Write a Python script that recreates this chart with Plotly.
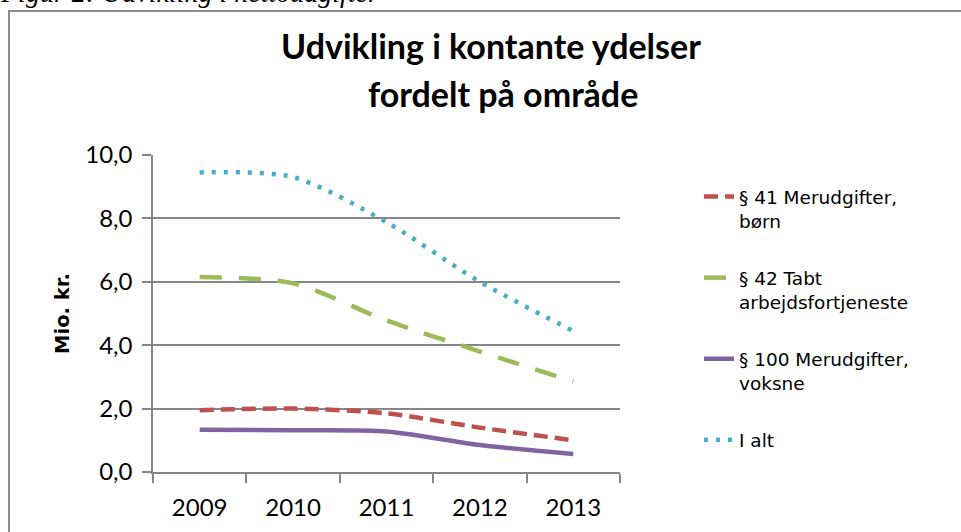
import plotly.graph_objects as go

years = ["2009", "2010", "2011", "2012", "2013"]
s41 = [1.95, 2.0, 1.85, 1.4, 1.0]
s42 = [6.15, 5.95, 4.78, 3.8, 2.85]
s100 = [1.33, 1.32, 1.28, 0.85, 0.57]
ialt = [9.45, 9.3, 7.88, 6.0, 4.45]

names = ["§ 41 Merudgifter,<br>børn", "§ 42 Tabt<br>arbejdsfortjeneste",
         "§ 100 Merudgifter,<br>voksne", "I alt"]
colors = ["#C0504D", "#9BBB59", "#8064A2", "#4BACC6"]
dashes = ["14px,7px", "22px,17px", "solid", "4px,8px"]
series = [s41, s42, s100, ialt]

# plot area in pixels
L, R, T, B = 153, 620, 155, 472
W, H = 961, 532
def px(x): return (x - L) / (R - L)
def py(y): return (B - y) / (B - T)

fig = go.Figure()
for i, (nm, vals) in enumerate(zip(names, series)):
    fig.add_trace(go.Scatter(
        x=years, y=vals, name=nm, mode="lines", legendgroup=str(i),
        line=dict(color=colors[i], width=4.5, dash=dashes[i], shape="spline", smoothing=0.8),
    ))

fig.update_layout(
    width=W, height=H,
    margin=dict(l=L, r=W - R, t=T, b=H - B),
    paper_bgcolor="white", plot_bgcolor="white",
    separators=", ",
    font=dict(family="Lato", color="#000000"),
    showlegend=True,
    legend=dict(x=px(699), y=py(178), xanchor="left", yanchor="top",
                font=dict(size=18.5, family="DejaVu Sans", color="#000"),
                valign="top", tracegroupgap=30, itemwidth=30,
                bgcolor="rgba(0,0,0,0)"),
    xaxis=dict(type="category", tickson="boundaries", ticks="outside", ticklen=9,
               tickcolor="#868686", tickwidth=1.5, showline=True, linecolor="#868686",
               linewidth=1.5, showgrid=False, range=[-0.5, 4.5],
               tickfont=dict(size=24, family="Lato"), ticklabelstandoff=13),
    yaxis=dict(range=[0, 10], dtick=2, tickformat=".1f", ticks="outside", ticklen=9,
               tickcolor="#868686", tickwidth=1.5, showline=True, linecolor="#868686",
               linewidth=1.5, showgrid=True, gridcolor="#868686", gridwidth=1.5,
               zeroline=False, tickfont=dict(size=24, family="Lato"), ticklabelstandoff=5,
               title=dict(text="<b>Mio. kr.</b>", font=dict(size=19.5, family="DejaVu Sans"),
                          standoff=10)),
)

fig.add_shape(type="rect", xref="paper", yref="paper",
              x0=px(9), x1=px(975), y0=py(545), y1=py(11),
              line=dict(color="#8c8c8c", width=2), layer="below")

fig.add_annotation(text="<b>Udvikling i kontante ydelser</b>", xref="paper", yref="paper",
                   x=px(491), y=py(46), xanchor="center", yanchor="middle",
                   showarrow=False, font=dict(size=34, family="Lato", color="#000"))
fig.add_annotation(text="<b>fordelt på område</b>", xref="paper", yref="paper",
                   x=px(503), y=py(93), xanchor="center", yanchor="middle",
                   showarrow=False, font=dict(size=34, family="Lato", color="#000"))
fig.add_annotation(text="<i>Figur 2: Udvikling i nettoudgifter</i>", xref="paper", yref="paper",
                   x=px(-2), y=py(-8), xanchor="left", yanchor="middle",
                   showarrow=False, font=dict(size=28, family="Liberation Serif", color="#000"))

fig.write_html("out.html", config={"displayModeBar": False},
               post_script="document.body.style.margin='0';")
